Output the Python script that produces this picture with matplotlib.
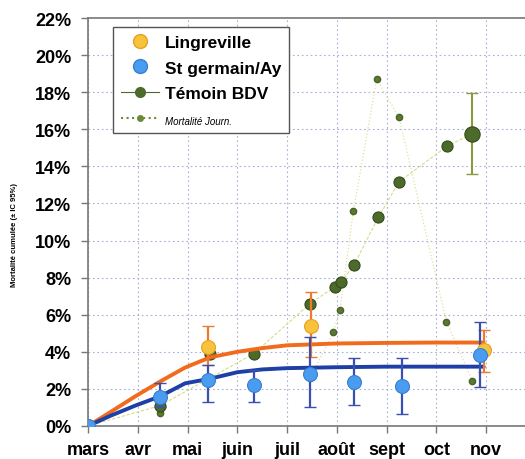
import matplotlib
matplotlib.use('Agg')
import matplotlib.pyplot as plt
import numpy as np
from matplotlib.ticker import FuncFormatter, MultipleLocator

# months starting at 1st of March (0 = mars)
months = ['mars', 'avr', 'mai', 'juin', 'juil', 'août', 'sept', 'oct', 'nov']

# Lingreville (cumulative mortality, %, with 95% CI)
ling_x = [0, 2.42, 4.48, 7.95]
ling_y = [0, 4.25, 5.4, 4.1]
ling_lo = [0, 3.3, 3.7, 2.9]
ling_hi = [0, 5.4, 7.2, 5.2]

# St germain/Ay
stg_x = [0, 1.45, 2.42, 3.33, 4.46, 5.35, 6.31, 7.88]
stg_y = [0, 1.55, 2.5, 2.2, 2.8, 2.35, 2.14, 3.83]
stg_lo = [0, 1.0, 1.3, 1.3, 1.0, 1.15, 0.65, 2.1]
stg_hi = [0, 2.3, 3.3, 3.0, 4.8, 3.65, 3.65, 5.6]

# Témoin BDV
tem_x = [0, 1.45, 3.33, 4.46, 4.96, 5.09, 5.35, 5.83, 6.25, 7.22]
tem_y = [0, 1.1, 3.9, 6.6, 7.5, 7.78, 8.7, 11.25, 13.17, 15.1]
tem_mai_x = 2.45
tem_mai_y = 3.9
tem_last_x = 7.72
tem_last_y = 15.75
tem_last_lo = 13.6
tem_last_hi = 17.95

# daily mortality
jour_x = [1.45, 4.46, 4.93, 5.06, 5.33, 5.8, 6.25, 7.2, 7.72]
jour_y = [0.7, 2.6, 5.05, 6.25, 11.57, 18.7, 16.64, 5.62, 2.45]

# fitted curves
fit_x = [0, 0.45, 0.95, 1.45, 1.95, 2.45, 3.0, 3.5, 4.0, 5.0, 6.0, 7.0, 7.95]
fit_ling = [0, 0.75, 1.6, 2.4, 3.15, 3.7, 4.0, 4.2, 4.35, 4.45, 4.48, 4.5, 4.5]
fit_stg = [0, 0.55, 1.1, 1.6, 2.3, 2.55, 2.9, 3.05, 3.12, 3.17, 3.2, 3.2, 3.2]

plt.rcParams['font.family'] = ['Liberation Sans', 'DejaVu Sans']

fig = plt.figure(figsize=(5.25, 4.6), dpi=100)
ax = fig.add_axes([88 / 525, 33 / 460, 448 / 525, 408 / 460])

grid_col = '#a9b0d6'
for m in range(len(months)):
    ax.axvline(m, color=grid_col, ls=(0, (1.5, 2.5)), lw=0.8, zorder=0)
for v in range(2, 22, 2):
    ax.axhline(v, color=grid_col, ls=(0, (1.5, 2.5)), lw=0.8, zorder=0)

# daily mortality
ax.plot(jour_x[1:], jour_y[1:], ls=':', color='#dfe29a', lw=0.9, zorder=1)
ax.plot(jour_x, jour_y, 'o', ms=4.5, color='#5a7a2e', mec='#48622a', zorder=2)

# control group
ax.plot(tem_x + [tem_last_x], tem_y + [tem_last_y], ls=(0, (3, 1.5)), color='#d6dc8a', lw=0.8, zorder=1)
ax.errorbar([tem_last_x], [tem_last_y],
            yerr=[[tem_last_y - tem_last_lo], [tem_last_hi - tem_last_y]],
            fmt='none', ecolor='#8a9a42', elinewidth=1.5, capsize=4, zorder=2)
ax.plot(tem_x + [tem_mai_x], tem_y + [tem_mai_y], 'o', ls='none', ms=8, color='#4c6a2a',
        mec='#344a1c', mew=0.8, zorder=3)
ax.plot([tem_last_x], [tem_last_y], 'o', ms=11, color='#4c6a2a', mec='#344a1c', mew=0.8, zorder=3)

# fitted curves
ax.plot(fit_x, fit_ling, color='#f26a1c', lw=2.8, solid_capstyle='round', zorder=4)
ax.plot(fit_x, fit_stg, color='#1d3fa6', lw=2.8, solid_capstyle='round', zorder=4)

ling_err = [np.array(ling_y) - np.array(ling_lo), np.array(ling_hi) - np.array(ling_y)]
ax.errorbar(ling_x[1:], ling_y[1:], yerr=[ling_err[0][1:], ling_err[1][1:]],
            fmt='none', ecolor='#f07a2c', elinewidth=1.6, capsize=4, zorder=5)
ax.plot(ling_x, ling_y, 'o', ms=10, color='#f8c33c', mec='#e8a020', mew=0.8, zorder=6)

stg_err = [np.array(stg_y) - np.array(stg_lo), np.array(stg_hi) - np.array(stg_y)]
ax.errorbar(stg_x[1:], stg_y[1:], yerr=[stg_err[0][1:], stg_err[1][1:]],
            fmt='none', ecolor='#3a4fb2', elinewidth=1.6, capsize=4, zorder=5)
ax.plot(stg_x, stg_y, 'o', ms=10, color='#4a9cf0', mec='#3a7ed0', mew=0.8, zorder=7)

ax.set_xlim(0, 9)
ax.set_ylim(0, 22)
ax.yaxis.set_major_locator(MultipleLocator(2))
ax.yaxis.set_major_formatter(FuncFormatter(lambda v, p: '%d%%' % v))
ax.set_xticks(range(len(months)))
ax.set_xticklabels(months)
ax.tick_params(axis='both', labelsize=13, length=5, width=1, color='#777777')
ax.tick_params(axis='y', pad=7)
ax.tick_params(axis='x', pad=6)
for lab in ax.get_xticklabels() + ax.get_yticklabels():
    lab.set_fontweight('bold')
for s in ['left', 'bottom', 'top']:
    ax.spines[s].set_color('#777777')
    ax.spines[s].set_linewidth(1.2)

fig.text(15 / 525, 1 - 235 / 460, 'Mortalité cumulée (± IC 95%)', rotation=90,
         ha='center', va='center', fontsize=5.5, fontweight='bold')

# legend
h1, = ax.plot([], [], 'o', ms=10, color='#f8c33c', mec='#e8a020')
h2, = ax.plot([], [], 'o', ms=10, color='#4a9cf0', mec='#3a7ed0')
h3, = ax.plot([], [], '-o', ms=7, color='#4c6a2a', lw=0.8)
h4, = ax.plot([], [], 'o', ms=4, color='#6a8a3a', ls=':')
leg = ax.legend([h1, h2, h3, h4], ['Lingreville', 'St germain/Ay', 'Témoin BDV', 'Mortalité Journ.'],
                loc='upper left', bbox_to_anchor=(25 / 448, 1 - 9 / 408), borderaxespad=0,
                frameon=True, fancybox=False, edgecolor='#555555', framealpha=1,
                handlelength=2.2, handletextpad=0.35, labelspacing=0.6,
                borderpad=0.45, prop={'size': 12.5, 'weight': 'bold'})
leg.get_frame().set_linewidth(1.0)
leg.set_zorder(10)
t4 = leg.get_texts()[3]
t4.set_fontsize(7)
t4.set_fontweight('normal')
t4.set_fontstyle('italic')

fig.savefig('out.png', dpi=100)
